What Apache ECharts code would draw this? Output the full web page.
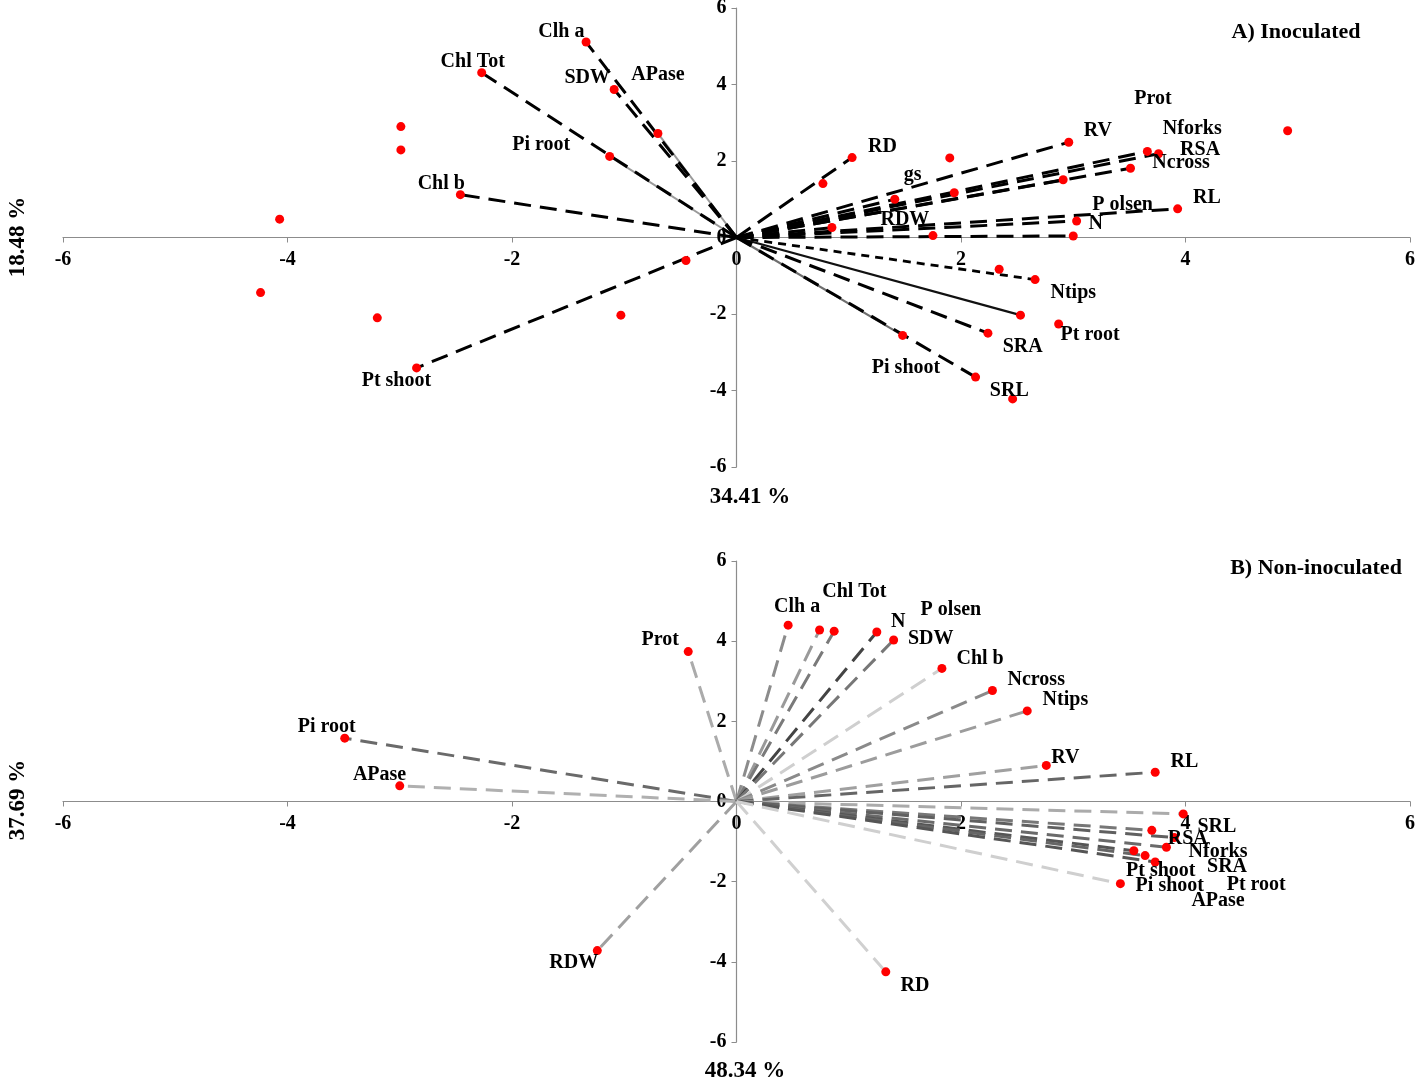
<!DOCTYPE html>
<html>
<head>
<meta charset="utf-8">
<script src="https://cdn.jsdelivr.net/npm/echarts@6/dist/echarts.min.js"></script>
<style>
html,body{margin:0;padding:0;background:#fff}
#main{width:1417px;height:1081px}
</style>
</head>
<body>
<div id="main"></div>
<script>
// ---- A) Inoculated : variable vectors (end points) ----
const varsA = ['Clh a','Chl Tot','SDW','APase','Pi root','Chl b','Pt shoot',
  'RD','gs','RDW','RV','Prot','Nforks','RSA','Ncross','RL','P olsen','N',
  'Ntips','Pt root','SRA','Pi shoot','SRL'];
const varAX = [-1.34,-2.27,-1.09,-0.70,-1.13,-2.46,-2.85,
  1.03,1.41,0.85,2.96,2.91,3.66,3.76,3.51,3.93,3.03,3.00,
  2.66,2.53,2.24,1.48,2.13];
const varAY = [5.11,4.31,3.87,2.72,2.12,1.12,-3.41,
  2.09,1.00,0.26,2.49,1.51,2.25,2.19,1.81,0.75,0.43,0.04,
  -1.10,-2.03,-2.50,-2.56,-3.65];
// observation scores (points only)
const obsAX = [-2.99,-2.99,-4.07,-4.24,-3.20,-1.03,-0.45,0.77,1.90,1.94,1.75,4.91,2.34,2.87,2.46];
const obsAY = [2.90,2.29,0.48,-1.44,-2.10,-2.03,-0.60,1.41,2.08,1.17,0.05,2.79,-0.83,-2.26,-4.22];
// label anchors
const labA  = ['Clh a','Chl Tot','SDW','APase','Pi root','Chl b','Pt shoot','RD','gs','RDW','RV',
  'Prot','Nforks','RSA','Ncross','P olsen','RL','N','Ntips','Pt root','SRA','Pi shoot','SRL'];
const labAX = [-1.56,-2.35,-1.33,-0.70,-1.74,-2.63,-3.03,1.30,1.57,1.50,3.22,
  3.71,4.06,4.13,3.96,3.44,4.19,3.20,3.00,3.15,2.55,1.51,2.43];
const labAY = [5.39,4.60,4.18,4.24,2.41,1.41,-3.74,2.38,1.65,0.47,2.80,
  3.63,2.85,2.30,1.96,0.86,1.05,0.37,-1.44,-2.54,-2.85,-3.42,-4.00];

// ---- B) Non-inoculated ----
const varsB = ['Prot','Pi root','APase','RDW','Clh a','Chl Tot','P olsen','N','SDW','Chl b',
  'Ncross','Ntips','RV','RL','SRL','RSA','gs','Nforks','Pt shoot','SRA','Pt root','Pi shoot','RD'];
const varBX = [-0.43,-3.49,-3.00,-1.24,0.46,0.74,0.87,1.25,1.40,1.83,
  2.28,2.59,2.76,3.73,3.98,3.70,3.90,3.83,3.54,3.64,3.73,3.42,1.33];
const varBY = [3.74,1.58,0.39,-3.72,4.40,4.28,4.25,4.23,4.03,3.32,
  2.77,2.26,0.90,0.73,-0.31,-0.72,-0.90,-1.14,-1.23,-1.35,-1.51,-2.05,-4.25];
const labB  = ['Prot','Pi root','APase','RDW','Clh a','Chl Tot','N','P olsen','SDW','Chl b','Ncross',
  'Ntips','RV','RL','SRL','RSA','Nforks','SRA','Pt shoot','Pi shoot','Pt root','APase','RD'];
const labBX = [-0.68,-3.65,-3.18,-1.45,0.54,1.05,1.44,1.91,1.73,2.17,2.67,
  2.93,2.93,3.99,4.28,4.02,4.29,4.37,3.78,3.86,4.63,4.29,1.59];
const labBY = [4.03,1.86,0.66,-4.03,4.85,5.22,4.47,4.77,4.05,3.57,3.03,
  2.53,1.09,0.99,-0.64,-0.94,-1.26,-1.64,-1.74,-2.11,-2.07,-2.49,-4.59];

// line styles
const styleA = {
  'APase':   {color:'#9a9a9a', type:'solid', width:2, z:2},
  'Pi root': {color:'#9a9a9a', type:'solid', width:2, z:2},
  'Pi shoot':{color:'#6e6e6e', type:'solid', width:2.2, z:2},
  'Pt root': {color:'#111', type:'solid', width:2.2, z:3},
  'Ntips':   {color:'#000', type:[8,6], width:2.8, z:3}
};
const colorB = {
  'Prot':'#ababab','Pi root':'#6a6a6a','APase':'#b0b0b0','RDW':'#a0a0a0','Clh a':'#8c8c8c',
  'Chl Tot':'#9a9a9a','P olsen':'#7a7a7a','N':'#444','SDW':'#777','Chl b':'#cfcfcf',
  'Ncross':'#8a8a8a','Ntips':'#9c9c9c','RV':'#a0a0a0','RL':'#666','SRL':'#ababab',
  'RSA':'#777','gs':'#606060','Nforks':'#6a6a6a','Pt shoot':'#555','SRA':'#666',
  'Pt root':'#555','Pi shoot':'#cfcfcf','RD':'#d0d0d0'
};

const FONT = '"Liberation Serif","Times New Roman",serif';
const AXC = '#8c8c8c';
const W = 1347;                 // grid width
const H = [459, 481];           // grid heights

function axisPair(grid) {
  const lab = {fontFamily:FONT, fontWeight:'bold', fontSize:20, color:'#000',
    showMinLabel:true, showMaxLabel:true, hideOverlap:false};
  const x = {
    type:'value', gridIndex:grid, min:-6, max:6, interval:2, position:'bottom',
    offset:-H[grid] / 2,
    axisLine:{onZero:false, lineStyle:{color:AXC, width:1.2}},
    axisTick:{show:true, length:5, lineStyle:{color:AXC}},
    axisLabel:Object.assign({margin:12}, lab),
    splitLine:{show:false}
  };
  const y = {
    type:'value', gridIndex:grid, min:-6, max:6, interval:2, position:'left',
    offset:-W / 2,
    axisLine:{onZero:false, lineStyle:{color:AXC, width:1.2}},
    axisTick:{show:true, length:5, lineStyle:{color:AXC}},
    axisLabel:Object.assign({margin:10}, lab),
    splitLine:{show:false}
  };
  return [x, y];
}

const series = [];

varsA.forEach(function (name, i) {
  const s = styleA[name] || {color:'#000', type:[17,9], width:3, z:3};
  series.push({
    type:'line', xAxisIndex:0, yAxisIndex:0, silent:true, showSymbol:false, z:s.z,
    data:[[0,0],[varAX[i],varAY[i]]],
    lineStyle:{color:s.color, width:s.width, type:s.type}
  });
});
varsB.forEach(function (name, i) {
  series.push({
    type:'line', xAxisIndex:1, yAxisIndex:1, silent:true, showSymbol:false, z:3,
    data:[[0,0],[varBX[i],varBY[i]]],
    lineStyle:{color:colorB[name], width:3, type:[17,9]}
  });
});

const dotsA = varAX.map((x, i) => [x, varAY[i]]).concat(obsAX.map((x, i) => [x, obsAY[i]]));
const dotsB = varBX.map((x, i) => [x, varBY[i]]);
series.push({type:'scatter', xAxisIndex:0, yAxisIndex:0, symbolSize:9, z:5,
  itemStyle:{color:'#ff0000', opacity:1}, data:dotsA});
series.push({type:'scatter', xAxisIndex:1, yAxisIndex:1, symbolSize:9, z:5,
  itemStyle:{color:'#ff0000', opacity:1}, data:dotsB});

function labelSeries(ax, names, xs, ys) {
  return {
    type:'scatter', xAxisIndex:ax, yAxisIndex:ax, symbolSize:1, z:6, silent:true,
    itemStyle:{color:'rgba(255,255,255,0)', opacity:1},
    label:{show:true, position:'inside', formatter:p => p.data.name,
      fontFamily:FONT, fontWeight:'bold', fontSize:20, color:'#000', opacity:1,
      textBorderWidth:0, textShadowBlur:0},
    labelLayout:{hideOverlap:false},
    data:names.map((n, i) => ({name:n, value:[xs[i], ys[i]]}))
  };
}
series.push(labelSeries(0, labA, labAX, labAY));
series.push(labelSeries(1, labB, labBX, labBY));

const [xa, ya] = axisPair(0);
const [xb, yb] = axisPair(1);

const txt = (t, x, y, size, rot) => ({
  type:'text', x:x, y:y, rotation:rot || 0,
  style:{text:t, font:'bold ' + size + 'px ' + FONT, fill:'#000', textAlign:'center', textVerticalAlign:'middle'}
});

const chart = echarts.init(document.getElementById('main'));
chart.setOption({
  backgroundColor:'#fff',
  animation:false,
  grid:[
    {left:63, right:7, top:8, height:H[0], outerBoundsMode:'none'},
    {left:63, right:7, top:561, height:H[1], outerBoundsMode:'none'}
  ],
  xAxis:[xa, xb],
  yAxis:[ya, yb],
  graphic:[
    txt('A) Inoculated', 1296, 32, 22),
    txt('B) Non-inoculated', 1316, 568, 22),
    txt('34.41 %', 750, 497, 23),
    txt('48.34 %', 745, 1071, 23),
    txt('18.48 %', 18, 237, 23, Math.PI / 2),
    txt('37.69 %', 18, 800, 23, Math.PI / 2)
  ],
  series:series
});
</script>
</body>
</html>
